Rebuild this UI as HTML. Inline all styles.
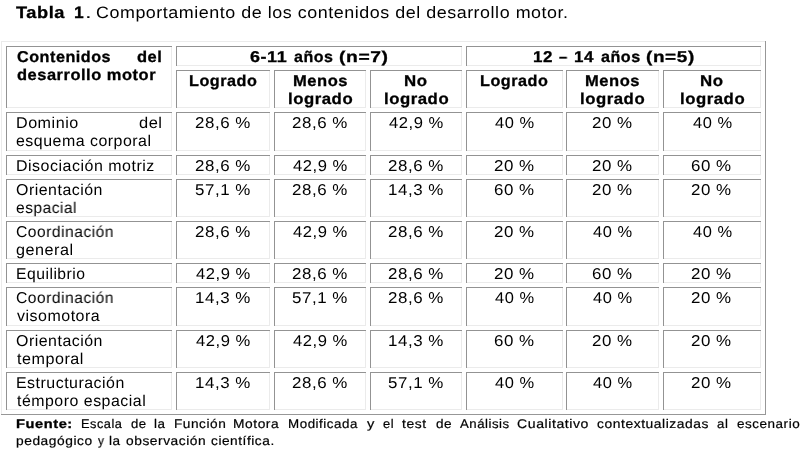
<!DOCTYPE html>
<html><head><meta charset="utf-8"><style>
html,body{margin:0;padding:0;background:#fff;width:807px;height:453px;overflow:hidden}
.l{position:absolute}
.t{position:absolute;white-space:pre;font-family:"Liberation Sans",sans-serif;line-height:40px;color:#000;transform-origin:0 0;text-rendering:geometricPrecision;will-change:transform}
b{font-weight:700;-webkit-text-stroke:0.3px}
</style></head><body>
<div class="l" style="left:1px;top:41px;width:765px;height:1px;background:#ebebeb"></div><div class="l" style="left:1px;top:41px;width:1px;height:374px;background:#ebebeb"></div><div class="l" style="left:1px;top:414px;width:765px;height:1px;background:#979797"></div><div class="l" style="left:765px;top:41px;width:1px;height:374px;background:#979797"></div><div class="l" style="left:6px;top:107px;width:166px;height:1px;background:#ebebeb"></div><div class="l" style="left:171px;top:46px;width:1px;height:62px;background:#ebebeb"></div><div class="l" style="left:6px;top:46px;width:166px;height:1px;background:#939393"></div><div class="l" style="left:6px;top:46px;width:1px;height:62px;background:#939393"></div><div class="l" style="left:176px;top:65px;width:286px;height:1px;background:#ebebeb"></div><div class="l" style="left:461px;top:46px;width:1px;height:20px;background:#ebebeb"></div><div class="l" style="left:176px;top:46px;width:286px;height:1px;background:#939393"></div><div class="l" style="left:176px;top:46px;width:1px;height:20px;background:#939393"></div><div class="l" style="left:466px;top:65px;width:295px;height:1px;background:#ebebeb"></div><div class="l" style="left:760px;top:46px;width:1px;height:20px;background:#ebebeb"></div><div class="l" style="left:466px;top:46px;width:295px;height:1px;background:#939393"></div><div class="l" style="left:466px;top:46px;width:1px;height:20px;background:#939393"></div><div class="l" style="left:176px;top:107px;width:94px;height:1px;background:#ebebeb"></div><div class="l" style="left:269px;top:70px;width:1px;height:38px;background:#ebebeb"></div><div class="l" style="left:176px;top:70px;width:94px;height:1px;background:#939393"></div><div class="l" style="left:176px;top:70px;width:1px;height:38px;background:#939393"></div><div class="l" style="left:274px;top:107px;width:92px;height:1px;background:#ebebeb"></div><div class="l" style="left:365px;top:70px;width:1px;height:38px;background:#ebebeb"></div><div class="l" style="left:274px;top:70px;width:92px;height:1px;background:#939393"></div><div class="l" style="left:274px;top:70px;width:1px;height:38px;background:#939393"></div><div class="l" style="left:370px;top:107px;width:92px;height:1px;background:#ebebeb"></div><div class="l" style="left:461px;top:70px;width:1px;height:38px;background:#ebebeb"></div><div class="l" style="left:370px;top:70px;width:92px;height:1px;background:#939393"></div><div class="l" style="left:370px;top:70px;width:1px;height:38px;background:#939393"></div><div class="l" style="left:466px;top:107px;width:97px;height:1px;background:#ebebeb"></div><div class="l" style="left:562px;top:70px;width:1px;height:38px;background:#ebebeb"></div><div class="l" style="left:466px;top:70px;width:97px;height:1px;background:#939393"></div><div class="l" style="left:466px;top:70px;width:1px;height:38px;background:#939393"></div><div class="l" style="left:566px;top:107px;width:93px;height:1px;background:#ebebeb"></div><div class="l" style="left:658px;top:70px;width:1px;height:38px;background:#ebebeb"></div><div class="l" style="left:566px;top:70px;width:93px;height:1px;background:#939393"></div><div class="l" style="left:566px;top:70px;width:1px;height:38px;background:#939393"></div><div class="l" style="left:663px;top:107px;width:98px;height:1px;background:#ebebeb"></div><div class="l" style="left:760px;top:70px;width:1px;height:38px;background:#ebebeb"></div><div class="l" style="left:663px;top:70px;width:98px;height:1px;background:#939393"></div><div class="l" style="left:663px;top:70px;width:1px;height:38px;background:#939393"></div><div class="l" style="left:6px;top:150px;width:166px;height:1px;background:#ebebeb"></div><div class="l" style="left:171px;top:112px;width:1px;height:39px;background:#ebebeb"></div><div class="l" style="left:6px;top:112px;width:166px;height:1px;background:#939393"></div><div class="l" style="left:6px;top:112px;width:1px;height:39px;background:#939393"></div><div class="l" style="left:176px;top:150px;width:94px;height:1px;background:#ebebeb"></div><div class="l" style="left:269px;top:112px;width:1px;height:39px;background:#ebebeb"></div><div class="l" style="left:176px;top:112px;width:94px;height:1px;background:#939393"></div><div class="l" style="left:176px;top:112px;width:1px;height:39px;background:#939393"></div><div class="l" style="left:274px;top:150px;width:92px;height:1px;background:#ebebeb"></div><div class="l" style="left:365px;top:112px;width:1px;height:39px;background:#ebebeb"></div><div class="l" style="left:274px;top:112px;width:92px;height:1px;background:#939393"></div><div class="l" style="left:274px;top:112px;width:1px;height:39px;background:#939393"></div><div class="l" style="left:370px;top:150px;width:92px;height:1px;background:#ebebeb"></div><div class="l" style="left:461px;top:112px;width:1px;height:39px;background:#ebebeb"></div><div class="l" style="left:370px;top:112px;width:92px;height:1px;background:#939393"></div><div class="l" style="left:370px;top:112px;width:1px;height:39px;background:#939393"></div><div class="l" style="left:466px;top:150px;width:97px;height:1px;background:#ebebeb"></div><div class="l" style="left:562px;top:112px;width:1px;height:39px;background:#ebebeb"></div><div class="l" style="left:466px;top:112px;width:97px;height:1px;background:#939393"></div><div class="l" style="left:466px;top:112px;width:1px;height:39px;background:#939393"></div><div class="l" style="left:566px;top:150px;width:93px;height:1px;background:#ebebeb"></div><div class="l" style="left:658px;top:112px;width:1px;height:39px;background:#ebebeb"></div><div class="l" style="left:566px;top:112px;width:93px;height:1px;background:#939393"></div><div class="l" style="left:566px;top:112px;width:1px;height:39px;background:#939393"></div><div class="l" style="left:663px;top:150px;width:98px;height:1px;background:#ebebeb"></div><div class="l" style="left:760px;top:112px;width:1px;height:39px;background:#ebebeb"></div><div class="l" style="left:663px;top:112px;width:98px;height:1px;background:#939393"></div><div class="l" style="left:663px;top:112px;width:1px;height:39px;background:#939393"></div><div class="l" style="left:6px;top:174px;width:166px;height:1px;background:#ebebeb"></div><div class="l" style="left:171px;top:155px;width:1px;height:20px;background:#ebebeb"></div><div class="l" style="left:6px;top:155px;width:166px;height:1px;background:#939393"></div><div class="l" style="left:6px;top:155px;width:1px;height:20px;background:#939393"></div><div class="l" style="left:176px;top:174px;width:94px;height:1px;background:#ebebeb"></div><div class="l" style="left:269px;top:155px;width:1px;height:20px;background:#ebebeb"></div><div class="l" style="left:176px;top:155px;width:94px;height:1px;background:#939393"></div><div class="l" style="left:176px;top:155px;width:1px;height:20px;background:#939393"></div><div class="l" style="left:274px;top:174px;width:92px;height:1px;background:#ebebeb"></div><div class="l" style="left:365px;top:155px;width:1px;height:20px;background:#ebebeb"></div><div class="l" style="left:274px;top:155px;width:92px;height:1px;background:#939393"></div><div class="l" style="left:274px;top:155px;width:1px;height:20px;background:#939393"></div><div class="l" style="left:370px;top:174px;width:92px;height:1px;background:#ebebeb"></div><div class="l" style="left:461px;top:155px;width:1px;height:20px;background:#ebebeb"></div><div class="l" style="left:370px;top:155px;width:92px;height:1px;background:#939393"></div><div class="l" style="left:370px;top:155px;width:1px;height:20px;background:#939393"></div><div class="l" style="left:466px;top:174px;width:97px;height:1px;background:#ebebeb"></div><div class="l" style="left:562px;top:155px;width:1px;height:20px;background:#ebebeb"></div><div class="l" style="left:466px;top:155px;width:97px;height:1px;background:#939393"></div><div class="l" style="left:466px;top:155px;width:1px;height:20px;background:#939393"></div><div class="l" style="left:566px;top:174px;width:93px;height:1px;background:#ebebeb"></div><div class="l" style="left:658px;top:155px;width:1px;height:20px;background:#ebebeb"></div><div class="l" style="left:566px;top:155px;width:93px;height:1px;background:#939393"></div><div class="l" style="left:566px;top:155px;width:1px;height:20px;background:#939393"></div><div class="l" style="left:663px;top:174px;width:98px;height:1px;background:#ebebeb"></div><div class="l" style="left:760px;top:155px;width:1px;height:20px;background:#ebebeb"></div><div class="l" style="left:663px;top:155px;width:98px;height:1px;background:#939393"></div><div class="l" style="left:663px;top:155px;width:1px;height:20px;background:#939393"></div><div class="l" style="left:6px;top:216px;width:166px;height:1px;background:#ebebeb"></div><div class="l" style="left:171px;top:179px;width:1px;height:38px;background:#ebebeb"></div><div class="l" style="left:6px;top:179px;width:166px;height:1px;background:#939393"></div><div class="l" style="left:6px;top:179px;width:1px;height:38px;background:#939393"></div><div class="l" style="left:176px;top:216px;width:94px;height:1px;background:#ebebeb"></div><div class="l" style="left:269px;top:179px;width:1px;height:38px;background:#ebebeb"></div><div class="l" style="left:176px;top:179px;width:94px;height:1px;background:#939393"></div><div class="l" style="left:176px;top:179px;width:1px;height:38px;background:#939393"></div><div class="l" style="left:274px;top:216px;width:92px;height:1px;background:#ebebeb"></div><div class="l" style="left:365px;top:179px;width:1px;height:38px;background:#ebebeb"></div><div class="l" style="left:274px;top:179px;width:92px;height:1px;background:#939393"></div><div class="l" style="left:274px;top:179px;width:1px;height:38px;background:#939393"></div><div class="l" style="left:370px;top:216px;width:92px;height:1px;background:#ebebeb"></div><div class="l" style="left:461px;top:179px;width:1px;height:38px;background:#ebebeb"></div><div class="l" style="left:370px;top:179px;width:92px;height:1px;background:#939393"></div><div class="l" style="left:370px;top:179px;width:1px;height:38px;background:#939393"></div><div class="l" style="left:466px;top:216px;width:97px;height:1px;background:#ebebeb"></div><div class="l" style="left:562px;top:179px;width:1px;height:38px;background:#ebebeb"></div><div class="l" style="left:466px;top:179px;width:97px;height:1px;background:#939393"></div><div class="l" style="left:466px;top:179px;width:1px;height:38px;background:#939393"></div><div class="l" style="left:566px;top:216px;width:93px;height:1px;background:#ebebeb"></div><div class="l" style="left:658px;top:179px;width:1px;height:38px;background:#ebebeb"></div><div class="l" style="left:566px;top:179px;width:93px;height:1px;background:#939393"></div><div class="l" style="left:566px;top:179px;width:1px;height:38px;background:#939393"></div><div class="l" style="left:663px;top:216px;width:98px;height:1px;background:#ebebeb"></div><div class="l" style="left:760px;top:179px;width:1px;height:38px;background:#ebebeb"></div><div class="l" style="left:663px;top:179px;width:98px;height:1px;background:#939393"></div><div class="l" style="left:663px;top:179px;width:1px;height:38px;background:#939393"></div><div class="l" style="left:6px;top:258px;width:166px;height:1px;background:#ebebeb"></div><div class="l" style="left:171px;top:221px;width:1px;height:38px;background:#ebebeb"></div><div class="l" style="left:6px;top:221px;width:166px;height:1px;background:#939393"></div><div class="l" style="left:6px;top:221px;width:1px;height:38px;background:#939393"></div><div class="l" style="left:176px;top:258px;width:94px;height:1px;background:#ebebeb"></div><div class="l" style="left:269px;top:221px;width:1px;height:38px;background:#ebebeb"></div><div class="l" style="left:176px;top:221px;width:94px;height:1px;background:#939393"></div><div class="l" style="left:176px;top:221px;width:1px;height:38px;background:#939393"></div><div class="l" style="left:274px;top:258px;width:92px;height:1px;background:#ebebeb"></div><div class="l" style="left:365px;top:221px;width:1px;height:38px;background:#ebebeb"></div><div class="l" style="left:274px;top:221px;width:92px;height:1px;background:#939393"></div><div class="l" style="left:274px;top:221px;width:1px;height:38px;background:#939393"></div><div class="l" style="left:370px;top:258px;width:92px;height:1px;background:#ebebeb"></div><div class="l" style="left:461px;top:221px;width:1px;height:38px;background:#ebebeb"></div><div class="l" style="left:370px;top:221px;width:92px;height:1px;background:#939393"></div><div class="l" style="left:370px;top:221px;width:1px;height:38px;background:#939393"></div><div class="l" style="left:466px;top:258px;width:97px;height:1px;background:#ebebeb"></div><div class="l" style="left:562px;top:221px;width:1px;height:38px;background:#ebebeb"></div><div class="l" style="left:466px;top:221px;width:97px;height:1px;background:#939393"></div><div class="l" style="left:466px;top:221px;width:1px;height:38px;background:#939393"></div><div class="l" style="left:566px;top:258px;width:93px;height:1px;background:#ebebeb"></div><div class="l" style="left:658px;top:221px;width:1px;height:38px;background:#ebebeb"></div><div class="l" style="left:566px;top:221px;width:93px;height:1px;background:#939393"></div><div class="l" style="left:566px;top:221px;width:1px;height:38px;background:#939393"></div><div class="l" style="left:663px;top:258px;width:98px;height:1px;background:#ebebeb"></div><div class="l" style="left:760px;top:221px;width:1px;height:38px;background:#ebebeb"></div><div class="l" style="left:663px;top:221px;width:98px;height:1px;background:#939393"></div><div class="l" style="left:663px;top:221px;width:1px;height:38px;background:#939393"></div><div class="l" style="left:6px;top:282px;width:166px;height:1px;background:#ebebeb"></div><div class="l" style="left:171px;top:263px;width:1px;height:20px;background:#ebebeb"></div><div class="l" style="left:6px;top:263px;width:166px;height:1px;background:#939393"></div><div class="l" style="left:6px;top:263px;width:1px;height:20px;background:#939393"></div><div class="l" style="left:176px;top:282px;width:94px;height:1px;background:#ebebeb"></div><div class="l" style="left:269px;top:263px;width:1px;height:20px;background:#ebebeb"></div><div class="l" style="left:176px;top:263px;width:94px;height:1px;background:#939393"></div><div class="l" style="left:176px;top:263px;width:1px;height:20px;background:#939393"></div><div class="l" style="left:274px;top:282px;width:92px;height:1px;background:#ebebeb"></div><div class="l" style="left:365px;top:263px;width:1px;height:20px;background:#ebebeb"></div><div class="l" style="left:274px;top:263px;width:92px;height:1px;background:#939393"></div><div class="l" style="left:274px;top:263px;width:1px;height:20px;background:#939393"></div><div class="l" style="left:370px;top:282px;width:92px;height:1px;background:#ebebeb"></div><div class="l" style="left:461px;top:263px;width:1px;height:20px;background:#ebebeb"></div><div class="l" style="left:370px;top:263px;width:92px;height:1px;background:#939393"></div><div class="l" style="left:370px;top:263px;width:1px;height:20px;background:#939393"></div><div class="l" style="left:466px;top:282px;width:97px;height:1px;background:#ebebeb"></div><div class="l" style="left:562px;top:263px;width:1px;height:20px;background:#ebebeb"></div><div class="l" style="left:466px;top:263px;width:97px;height:1px;background:#939393"></div><div class="l" style="left:466px;top:263px;width:1px;height:20px;background:#939393"></div><div class="l" style="left:566px;top:282px;width:93px;height:1px;background:#ebebeb"></div><div class="l" style="left:658px;top:263px;width:1px;height:20px;background:#ebebeb"></div><div class="l" style="left:566px;top:263px;width:93px;height:1px;background:#939393"></div><div class="l" style="left:566px;top:263px;width:1px;height:20px;background:#939393"></div><div class="l" style="left:663px;top:282px;width:98px;height:1px;background:#ebebeb"></div><div class="l" style="left:760px;top:263px;width:1px;height:20px;background:#ebebeb"></div><div class="l" style="left:663px;top:263px;width:98px;height:1px;background:#939393"></div><div class="l" style="left:663px;top:263px;width:1px;height:20px;background:#939393"></div><div class="l" style="left:6px;top:325px;width:166px;height:1px;background:#ebebeb"></div><div class="l" style="left:171px;top:287px;width:1px;height:39px;background:#ebebeb"></div><div class="l" style="left:6px;top:287px;width:166px;height:1px;background:#939393"></div><div class="l" style="left:6px;top:287px;width:1px;height:39px;background:#939393"></div><div class="l" style="left:176px;top:325px;width:94px;height:1px;background:#ebebeb"></div><div class="l" style="left:269px;top:287px;width:1px;height:39px;background:#ebebeb"></div><div class="l" style="left:176px;top:287px;width:94px;height:1px;background:#939393"></div><div class="l" style="left:176px;top:287px;width:1px;height:39px;background:#939393"></div><div class="l" style="left:274px;top:325px;width:92px;height:1px;background:#ebebeb"></div><div class="l" style="left:365px;top:287px;width:1px;height:39px;background:#ebebeb"></div><div class="l" style="left:274px;top:287px;width:92px;height:1px;background:#939393"></div><div class="l" style="left:274px;top:287px;width:1px;height:39px;background:#939393"></div><div class="l" style="left:370px;top:325px;width:92px;height:1px;background:#ebebeb"></div><div class="l" style="left:461px;top:287px;width:1px;height:39px;background:#ebebeb"></div><div class="l" style="left:370px;top:287px;width:92px;height:1px;background:#939393"></div><div class="l" style="left:370px;top:287px;width:1px;height:39px;background:#939393"></div><div class="l" style="left:466px;top:325px;width:97px;height:1px;background:#ebebeb"></div><div class="l" style="left:562px;top:287px;width:1px;height:39px;background:#ebebeb"></div><div class="l" style="left:466px;top:287px;width:97px;height:1px;background:#939393"></div><div class="l" style="left:466px;top:287px;width:1px;height:39px;background:#939393"></div><div class="l" style="left:566px;top:325px;width:93px;height:1px;background:#ebebeb"></div><div class="l" style="left:658px;top:287px;width:1px;height:39px;background:#ebebeb"></div><div class="l" style="left:566px;top:287px;width:93px;height:1px;background:#939393"></div><div class="l" style="left:566px;top:287px;width:1px;height:39px;background:#939393"></div><div class="l" style="left:663px;top:325px;width:98px;height:1px;background:#ebebeb"></div><div class="l" style="left:760px;top:287px;width:1px;height:39px;background:#ebebeb"></div><div class="l" style="left:663px;top:287px;width:98px;height:1px;background:#939393"></div><div class="l" style="left:663px;top:287px;width:1px;height:39px;background:#939393"></div><div class="l" style="left:6px;top:367px;width:166px;height:1px;background:#ebebeb"></div><div class="l" style="left:171px;top:330px;width:1px;height:38px;background:#ebebeb"></div><div class="l" style="left:6px;top:330px;width:166px;height:1px;background:#939393"></div><div class="l" style="left:6px;top:330px;width:1px;height:38px;background:#939393"></div><div class="l" style="left:176px;top:367px;width:94px;height:1px;background:#ebebeb"></div><div class="l" style="left:269px;top:330px;width:1px;height:38px;background:#ebebeb"></div><div class="l" style="left:176px;top:330px;width:94px;height:1px;background:#939393"></div><div class="l" style="left:176px;top:330px;width:1px;height:38px;background:#939393"></div><div class="l" style="left:274px;top:367px;width:92px;height:1px;background:#ebebeb"></div><div class="l" style="left:365px;top:330px;width:1px;height:38px;background:#ebebeb"></div><div class="l" style="left:274px;top:330px;width:92px;height:1px;background:#939393"></div><div class="l" style="left:274px;top:330px;width:1px;height:38px;background:#939393"></div><div class="l" style="left:370px;top:367px;width:92px;height:1px;background:#ebebeb"></div><div class="l" style="left:461px;top:330px;width:1px;height:38px;background:#ebebeb"></div><div class="l" style="left:370px;top:330px;width:92px;height:1px;background:#939393"></div><div class="l" style="left:370px;top:330px;width:1px;height:38px;background:#939393"></div><div class="l" style="left:466px;top:367px;width:97px;height:1px;background:#ebebeb"></div><div class="l" style="left:562px;top:330px;width:1px;height:38px;background:#ebebeb"></div><div class="l" style="left:466px;top:330px;width:97px;height:1px;background:#939393"></div><div class="l" style="left:466px;top:330px;width:1px;height:38px;background:#939393"></div><div class="l" style="left:566px;top:367px;width:93px;height:1px;background:#ebebeb"></div><div class="l" style="left:658px;top:330px;width:1px;height:38px;background:#ebebeb"></div><div class="l" style="left:566px;top:330px;width:93px;height:1px;background:#939393"></div><div class="l" style="left:566px;top:330px;width:1px;height:38px;background:#939393"></div><div class="l" style="left:663px;top:367px;width:98px;height:1px;background:#ebebeb"></div><div class="l" style="left:760px;top:330px;width:1px;height:38px;background:#ebebeb"></div><div class="l" style="left:663px;top:330px;width:98px;height:1px;background:#939393"></div><div class="l" style="left:663px;top:330px;width:1px;height:38px;background:#939393"></div><div class="l" style="left:6px;top:409px;width:166px;height:1px;background:#ebebeb"></div><div class="l" style="left:171px;top:372px;width:1px;height:38px;background:#ebebeb"></div><div class="l" style="left:6px;top:372px;width:166px;height:1px;background:#939393"></div><div class="l" style="left:6px;top:372px;width:1px;height:38px;background:#939393"></div><div class="l" style="left:176px;top:409px;width:94px;height:1px;background:#ebebeb"></div><div class="l" style="left:269px;top:372px;width:1px;height:38px;background:#ebebeb"></div><div class="l" style="left:176px;top:372px;width:94px;height:1px;background:#939393"></div><div class="l" style="left:176px;top:372px;width:1px;height:38px;background:#939393"></div><div class="l" style="left:274px;top:409px;width:92px;height:1px;background:#ebebeb"></div><div class="l" style="left:365px;top:372px;width:1px;height:38px;background:#ebebeb"></div><div class="l" style="left:274px;top:372px;width:92px;height:1px;background:#939393"></div><div class="l" style="left:274px;top:372px;width:1px;height:38px;background:#939393"></div><div class="l" style="left:370px;top:409px;width:92px;height:1px;background:#ebebeb"></div><div class="l" style="left:461px;top:372px;width:1px;height:38px;background:#ebebeb"></div><div class="l" style="left:370px;top:372px;width:92px;height:1px;background:#939393"></div><div class="l" style="left:370px;top:372px;width:1px;height:38px;background:#939393"></div><div class="l" style="left:466px;top:409px;width:97px;height:1px;background:#ebebeb"></div><div class="l" style="left:562px;top:372px;width:1px;height:38px;background:#ebebeb"></div><div class="l" style="left:466px;top:372px;width:97px;height:1px;background:#939393"></div><div class="l" style="left:466px;top:372px;width:1px;height:38px;background:#939393"></div><div class="l" style="left:566px;top:409px;width:93px;height:1px;background:#ebebeb"></div><div class="l" style="left:658px;top:372px;width:1px;height:38px;background:#ebebeb"></div><div class="l" style="left:566px;top:372px;width:93px;height:1px;background:#939393"></div><div class="l" style="left:566px;top:372px;width:1px;height:38px;background:#939393"></div><div class="l" style="left:663px;top:409px;width:98px;height:1px;background:#ebebeb"></div><div class="l" style="left:760px;top:372px;width:1px;height:38px;background:#ebebeb"></div><div class="l" style="left:663px;top:372px;width:98px;height:1px;background:#939393"></div><div class="l" style="left:663px;top:372px;width:1px;height:38px;background:#939393"></div>
<div class="t" style="left:16.10px;top:-7px;font-size:16.6px;font-weight:700;-webkit-text-stroke:0.3px;letter-spacing:0.5px;transform:scaleX(1.0978)">Tabla</div><div class="t" style="left:73.75px;top:-7px;font-size:16.6px;font-weight:700;-webkit-text-stroke:0.3px;letter-spacing:0.5px;transform:scaleX(1.0500)">1</div><div class="t" style="left:84.65px;top:-7px;font-size:16.6px;letter-spacing:0.5px;transform:scaleX(1.4500)">.</div><div class="t" style="left:96.22px;top:-7px;font-size:16.6px;letter-spacing:0.5px;transform:scaleX(1.0780)">Comportamiento de los contenidos del desarrollo motor.</div><div class="t" style="left:17.00px;top:38px;font-size:15.7px;font-weight:700;-webkit-text-stroke:0.3px;letter-spacing:0.5px;transform:scaleX(1.0311)">Contenidos</div><div class="t" style="left:137.10px;top:38px;font-size:15.7px;font-weight:700;-webkit-text-stroke:0.3px;letter-spacing:0.5px;transform:scaleX(1.0500)">del</div><div class="t" style="left:17.00px;top:56px;font-size:15.7px;font-weight:700;-webkit-text-stroke:0.3px;letter-spacing:0.5px;transform:scaleX(1.0485)">desarrollo motor</div><div class="t" style="left:250.00px;top:38px;font-size:15.7px;font-weight:700;-webkit-text-stroke:0.3px;letter-spacing:0.5px;transform:scaleX(1.1438)">6-11</div><div class="t" style="left:294.10px;top:38px;font-size:15.7px;font-weight:700;-webkit-text-stroke:0.3px;letter-spacing:0.5px;transform:scaleX(1.0211)">años</div><div class="t" style="left:339.07px;top:38px;font-size:15.7px;font-weight:700;-webkit-text-stroke:0.3px;letter-spacing:0.5px;transform:scaleX(1.2282)">(n=7)</div><div class="t" style="left:532.52px;top:38px;font-size:15.7px;font-weight:700;-webkit-text-stroke:0.3px;letter-spacing:0.5px;transform:scaleX(1.0824)">12</div><div class="t" style="left:559.20px;top:38px;font-size:15.7px;font-weight:700;-webkit-text-stroke:0.3px;letter-spacing:0.5px;transform:scaleX(0.9333)">–</div><div class="t" style="left:574.32px;top:38px;font-size:15.7px;font-weight:700;-webkit-text-stroke:0.3px;letter-spacing:0.5px;transform:scaleX(1.0824)">14</div><div class="t" style="left:601.00px;top:38px;font-size:15.7px;font-weight:700;-webkit-text-stroke:0.3px;letter-spacing:0.5px;transform:scaleX(1.0289)">años</div><div class="t" style="left:645.59px;top:38px;font-size:15.7px;font-weight:700;-webkit-text-stroke:0.3px;letter-spacing:0.5px;transform:scaleX(1.2077)">(n=5)</div><div class="t" style="left:188.62px;top:62px;font-size:15.7px;font-weight:700;-webkit-text-stroke:0.3px;letter-spacing:0.5px;transform:scaleX(1.0323)">Logrado</div><div class="t" style="left:480.12px;top:62px;font-size:15.7px;font-weight:700;-webkit-text-stroke:0.3px;letter-spacing:0.5px;transform:scaleX(1.0323)">Logrado</div><div class="t" style="left:292.80px;top:62px;font-size:15.7px;font-weight:700;-webkit-text-stroke:0.3px;letter-spacing:0.5px;transform:scaleX(1.0540)">Menos</div><div class="t" style="left:287.63px;top:80px;font-size:15.7px;font-weight:700;-webkit-text-stroke:0.3px;letter-spacing:0.5px;transform:scaleX(1.0678)">logrado</div><div class="t" style="left:585.30px;top:62px;font-size:15.7px;font-weight:700;-webkit-text-stroke:0.3px;letter-spacing:0.5px;transform:scaleX(1.0540)">Menos</div><div class="t" style="left:580.13px;top:80px;font-size:15.7px;font-weight:700;-webkit-text-stroke:0.3px;letter-spacing:0.5px;transform:scaleX(1.0678)">logrado</div><div class="t" style="left:404.38px;top:62px;font-size:15.7px;font-weight:700;-webkit-text-stroke:0.3px;letter-spacing:0.5px;transform:scaleX(1.0750)">No</div><div class="t" style="left:383.63px;top:80px;font-size:15.7px;font-weight:700;-webkit-text-stroke:0.3px;letter-spacing:0.5px;transform:scaleX(1.0678)">logrado</div><div class="t" style="left:700.38px;top:62px;font-size:15.7px;font-weight:700;-webkit-text-stroke:0.3px;letter-spacing:0.5px;transform:scaleX(1.0750)">No</div><div class="t" style="left:679.63px;top:80px;font-size:15.7px;font-weight:700;-webkit-text-stroke:0.3px;letter-spacing:0.5px;transform:scaleX(1.0678)">logrado</div><div class="t" style="left:15.97px;top:104px;font-size:15.7px;letter-spacing:0.5px;transform:scaleX(1.0271)">Dominio</div><div class="t" style="left:138.95px;top:104px;font-size:15.7px;letter-spacing:0.5px;transform:scaleX(1.0500)">del</div><div class="t" style="left:15.99px;top:122px;font-size:15.7px;letter-spacing:0.5px;transform:scaleX(1.0145)">esquema corporal</div><div class="t" style="left:15.98px;top:147px;font-size:15.7px;letter-spacing:0.5px;transform:scaleX(1.0187)">Disociación motriz</div><div class="t" style="left:15.99px;top:171px;font-size:15.7px;letter-spacing:0.5px;transform:scaleX(1.0145)">Orientación</div><div class="t" style="left:16.01px;top:189px;font-size:15.7px;letter-spacing:0.5px;transform:scaleX(0.9915)">espacial</div><div class="t" style="left:16.01px;top:213px;font-size:15.7px;letter-spacing:0.5px;transform:scaleX(0.9948)">Coordinación</div><div class="t" style="left:15.97px;top:231px;font-size:15.7px;letter-spacing:0.5px;transform:scaleX(1.0321)">general</div><div class="t" style="left:16.00px;top:255px;font-size:15.7px;letter-spacing:0.5px;transform:scaleX(1.0000)">Equilibrio</div><div class="t" style="left:16.01px;top:279px;font-size:15.7px;letter-spacing:0.5px;transform:scaleX(0.9948)">Coordinación</div><div class="t" style="left:17.00px;top:297px;font-size:15.7px;letter-spacing:0.5px;transform:scaleX(1.0185)">visomotora</div><div class="t" style="left:15.99px;top:322px;font-size:15.7px;letter-spacing:0.5px;transform:scaleX(1.0145)">Orientación</div><div class="t" style="left:17.00px;top:340px;font-size:15.7px;letter-spacing:0.5px;transform:scaleX(1.0281)">temporal</div><div class="t" style="left:15.99px;top:364px;font-size:15.7px;letter-spacing:0.5px;transform:scaleX(1.0143)">Estructuración</div><div class="t" style="left:17.00px;top:382px;font-size:15.7px;letter-spacing:0.5px;transform:scaleX(1.0135)">témporo espacial</div><div class="t" style="left:194.87px;top:104px;font-size:15.7px;letter-spacing:0.5px;transform:scaleX(1.0780)">28,6 %</div><div class="t" style="left:291.87px;top:104px;font-size:15.7px;letter-spacing:0.5px;transform:scaleX(1.0780)">28,6 %</div><div class="t" style="left:388.95px;top:104px;font-size:15.7px;letter-spacing:0.5px;transform:scaleX(1.0569)">42,9 %</div><div class="t" style="left:495.00px;top:104px;font-size:15.7px;letter-spacing:0.5px;transform:scaleX(1.0486)">40 %</div><div class="t" style="left:591.92px;top:104px;font-size:15.7px;letter-spacing:0.5px;transform:scaleX(1.0778)">20 %</div><div class="t" style="left:692.50px;top:104px;font-size:15.7px;letter-spacing:0.5px;transform:scaleX(1.0486)">40 %</div><div class="t" style="left:194.87px;top:147px;font-size:15.7px;letter-spacing:0.5px;transform:scaleX(1.0780)">28,6 %</div><div class="t" style="left:292.95px;top:147px;font-size:15.7px;letter-spacing:0.5px;transform:scaleX(1.0569)">42,9 %</div><div class="t" style="left:387.87px;top:147px;font-size:15.7px;letter-spacing:0.5px;transform:scaleX(1.0780)">28,6 %</div><div class="t" style="left:493.92px;top:147px;font-size:15.7px;letter-spacing:0.5px;transform:scaleX(1.0778)">20 %</div><div class="t" style="left:591.92px;top:147px;font-size:15.7px;letter-spacing:0.5px;transform:scaleX(1.0778)">20 %</div><div class="t" style="left:691.42px;top:147px;font-size:15.7px;letter-spacing:0.5px;transform:scaleX(1.0778)">60 %</div><div class="t" style="left:194.87px;top:171px;font-size:15.7px;letter-spacing:0.5px;transform:scaleX(1.0780)">57,1 %</div><div class="t" style="left:291.87px;top:171px;font-size:15.7px;letter-spacing:0.5px;transform:scaleX(1.0780)">28,6 %</div><div class="t" style="left:387.87px;top:171px;font-size:15.7px;letter-spacing:0.5px;transform:scaleX(1.0780)">14,3 %</div><div class="t" style="left:493.92px;top:171px;font-size:15.7px;letter-spacing:0.5px;transform:scaleX(1.0778)">60 %</div><div class="t" style="left:591.92px;top:171px;font-size:15.7px;letter-spacing:0.5px;transform:scaleX(1.0778)">20 %</div><div class="t" style="left:691.42px;top:171px;font-size:15.7px;letter-spacing:0.5px;transform:scaleX(1.0778)">20 %</div><div class="t" style="left:194.87px;top:213px;font-size:15.7px;letter-spacing:0.5px;transform:scaleX(1.0780)">28,6 %</div><div class="t" style="left:292.95px;top:213px;font-size:15.7px;letter-spacing:0.5px;transform:scaleX(1.0569)">42,9 %</div><div class="t" style="left:387.87px;top:213px;font-size:15.7px;letter-spacing:0.5px;transform:scaleX(1.0780)">28,6 %</div><div class="t" style="left:493.92px;top:213px;font-size:15.7px;letter-spacing:0.5px;transform:scaleX(1.0778)">20 %</div><div class="t" style="left:593.00px;top:213px;font-size:15.7px;letter-spacing:0.5px;transform:scaleX(1.0486)">40 %</div><div class="t" style="left:692.50px;top:213px;font-size:15.7px;letter-spacing:0.5px;transform:scaleX(1.0486)">40 %</div><div class="t" style="left:195.95px;top:255px;font-size:15.7px;letter-spacing:0.5px;transform:scaleX(1.0569)">42,9 %</div><div class="t" style="left:291.87px;top:255px;font-size:15.7px;letter-spacing:0.5px;transform:scaleX(1.0780)">28,6 %</div><div class="t" style="left:387.87px;top:255px;font-size:15.7px;letter-spacing:0.5px;transform:scaleX(1.0780)">28,6 %</div><div class="t" style="left:493.92px;top:255px;font-size:15.7px;letter-spacing:0.5px;transform:scaleX(1.0778)">20 %</div><div class="t" style="left:591.92px;top:255px;font-size:15.7px;letter-spacing:0.5px;transform:scaleX(1.0778)">60 %</div><div class="t" style="left:691.42px;top:255px;font-size:15.7px;letter-spacing:0.5px;transform:scaleX(1.0778)">20 %</div><div class="t" style="left:194.87px;top:279px;font-size:15.7px;letter-spacing:0.5px;transform:scaleX(1.0780)">14,3 %</div><div class="t" style="left:291.87px;top:279px;font-size:15.7px;letter-spacing:0.5px;transform:scaleX(1.0780)">57,1 %</div><div class="t" style="left:387.87px;top:279px;font-size:15.7px;letter-spacing:0.5px;transform:scaleX(1.0780)">28,6 %</div><div class="t" style="left:495.00px;top:279px;font-size:15.7px;letter-spacing:0.5px;transform:scaleX(1.0486)">40 %</div><div class="t" style="left:593.00px;top:279px;font-size:15.7px;letter-spacing:0.5px;transform:scaleX(1.0486)">40 %</div><div class="t" style="left:691.42px;top:279px;font-size:15.7px;letter-spacing:0.5px;transform:scaleX(1.0778)">20 %</div><div class="t" style="left:195.95px;top:322px;font-size:15.7px;letter-spacing:0.5px;transform:scaleX(1.0569)">42,9 %</div><div class="t" style="left:292.95px;top:322px;font-size:15.7px;letter-spacing:0.5px;transform:scaleX(1.0569)">42,9 %</div><div class="t" style="left:387.87px;top:322px;font-size:15.7px;letter-spacing:0.5px;transform:scaleX(1.0780)">14,3 %</div><div class="t" style="left:493.92px;top:322px;font-size:15.7px;letter-spacing:0.5px;transform:scaleX(1.0778)">60 %</div><div class="t" style="left:591.92px;top:322px;font-size:15.7px;letter-spacing:0.5px;transform:scaleX(1.0778)">20 %</div><div class="t" style="left:691.42px;top:322px;font-size:15.7px;letter-spacing:0.5px;transform:scaleX(1.0778)">20 %</div><div class="t" style="left:194.87px;top:364px;font-size:15.7px;letter-spacing:0.5px;transform:scaleX(1.0780)">14,3 %</div><div class="t" style="left:291.87px;top:364px;font-size:15.7px;letter-spacing:0.5px;transform:scaleX(1.0780)">28,6 %</div><div class="t" style="left:387.87px;top:364px;font-size:15.7px;letter-spacing:0.5px;transform:scaleX(1.0780)">57,1 %</div><div class="t" style="left:495.00px;top:364px;font-size:15.7px;letter-spacing:0.5px;transform:scaleX(1.0486)">40 %</div><div class="t" style="left:593.00px;top:364px;font-size:15.7px;letter-spacing:0.5px;transform:scaleX(1.0486)">40 %</div><div class="t" style="left:691.42px;top:364px;font-size:15.7px;letter-spacing:0.5px;transform:scaleX(1.0778)">20 %</div><div class="t" style="-webkit-text-stroke:0.2px;left:15.74px;top:404px;font-size:12.6px;letter-spacing:0.5px;transform:scaleX(1.1596)"><b>Fuente:</b></div><div class="t" style="-webkit-text-stroke:0.2px;left:80.58px;top:404px;font-size:12.6px;letter-spacing:0.5px;transform:scaleX(1.0154)">Escala</div><div class="t" style="-webkit-text-stroke:0.2px;left:131.40px;top:404px;font-size:12.6px;letter-spacing:0.5px;transform:scaleX(1.0429)">de</div><div class="t" style="-webkit-text-stroke:0.2px;left:154.33px;top:404px;font-size:12.6px;letter-spacing:0.5px;transform:scaleX(1.0667)">la</div><div class="t" style="-webkit-text-stroke:0.2px;left:174.02px;top:404px;font-size:12.6px;letter-spacing:0.5px;transform:scaleX(1.0826)">Función</div><div class="t" style="-webkit-text-stroke:0.2px;left:233.30px;top:404px;font-size:12.6px;letter-spacing:0.5px;transform:scaleX(1.0951)">Motora</div><div class="t" style="-webkit-text-stroke:0.2px;left:287.74px;top:404px;font-size:12.6px;letter-spacing:0.5px;transform:scaleX(1.0615)">Modificada</div><div class="t" style="-webkit-text-stroke:0.2px;left:366.90px;top:404px;font-size:12.6px;letter-spacing:0.5px;transform:scaleX(1.1667)">y</div><div class="t" style="-webkit-text-stroke:0.2px;left:383.00px;top:404px;font-size:12.6px;letter-spacing:0.5px;transform:scaleX(1.0200)">el</div><div class="t" style="-webkit-text-stroke:0.2px;left:402.40px;top:404px;font-size:12.6px;letter-spacing:0.5px;transform:scaleX(1.1000)">test</div><div class="t" style="-webkit-text-stroke:0.2px;left:435.80px;top:404px;font-size:12.6px;letter-spacing:0.5px;transform:scaleX(1.0786)">de</div><div class="t" style="-webkit-text-stroke:0.2px;left:459.80px;top:404px;font-size:12.6px;letter-spacing:0.5px;transform:scaleX(1.0489)">Análisis</div><div class="t" style="-webkit-text-stroke:0.2px;left:517.28px;top:404px;font-size:12.6px;letter-spacing:0.5px;transform:scaleX(1.1194)">Cualitativo</div><div class="t" style="-webkit-text-stroke:0.2px;left:596.90px;top:404px;font-size:12.6px;letter-spacing:0.5px;transform:scaleX(1.1010)">contextualizadas</div><div class="t" style="-webkit-text-stroke:0.2px;left:716.70px;top:404px;font-size:12.6px;letter-spacing:0.5px;transform:scaleX(1.0500)">al</div><div class="t" style="-webkit-text-stroke:0.2px;left:736.60px;top:404px;font-size:12.6px;letter-spacing:0.5px;transform:scaleX(1.0690)">escenario</div><div class="t" style="-webkit-text-stroke:0.2px;left:15.81px;top:421px;font-size:12.6px;letter-spacing:0.5px;transform:scaleX(1.0926)">pedagógico</div><div class="t" style="-webkit-text-stroke:0.2px;left:98.10px;top:421px;font-size:12.6px;letter-spacing:0.5px;transform:scaleX(0.9333)">y</div><div class="t" style="-webkit-text-stroke:0.2px;left:109.02px;top:421px;font-size:12.6px;letter-spacing:0.5px;transform:scaleX(1.0778)">la</div><div class="t" style="-webkit-text-stroke:0.2px;left:126.20px;top:421px;font-size:12.6px;letter-spacing:0.5px;transform:scaleX(1.0931)">observación</div><div class="t" style="-webkit-text-stroke:0.2px;left:211.20px;top:421px;font-size:12.6px;letter-spacing:0.5px;transform:scaleX(1.0860)">científica.</div>
</body></html>
